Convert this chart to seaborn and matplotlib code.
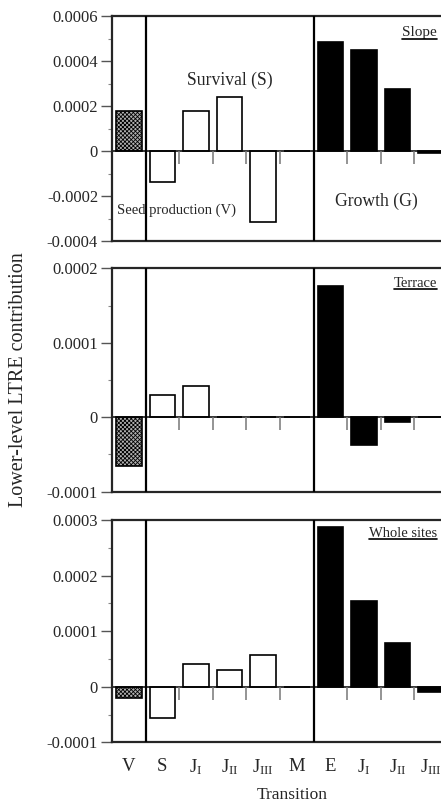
import numpy as np
import pandas as pd
import matplotlib
matplotlib.use("Agg")
import matplotlib.pyplot as plt
from matplotlib.ticker import FixedLocator, FixedFormatter, MultipleLocator
from matplotlib.lines import Line2D
import seaborn as sns

# ---------------- data ----------------
keys = ["V", "S", "SJI", "SJII", "SJIII", "M", "E", "GJI", "GJII", "GJIII"]
groups = ["V", "S", "S", "S", "S", "S", "G", "G", "G", "G"]
xlabels = ["V", "S", r"$\mathrm{J_{I}}$", r"$\mathrm{J_{II}}$", r"$\mathrm{J_{III}}$",
           "M", "E", r"$\mathrm{J_{I}}$", r"$\mathrm{J_{II}}$", r"$\mathrm{J_{III}}$"]

slope = [0.000178, -0.000136, 0.000178, 0.000241, -0.000314, -0.000002,
         0.000483, 0.000447, 0.000274, -0.000010]
terrace = [-0.0000651, 0.0000293, 0.0000414, 0.0, 0.0, 0.0,
           0.0001766, -0.0000369, -0.0000065, 0.0]
whole = [-0.000021, -0.0000563, 0.0000408, 0.0000300, 0.0000576, 0.0,
         0.000288, 0.000155, 0.0000786, -0.0000103]

panel_names = ["Slope", "Terrace", "Whole sites"]
panel_values = [slope, terrace, whole]
ylims = [(-0.0004, 0.0006), (-0.0001, 0.0002), (-0.0001, 0.0003)]
yticks = [[0.0006, 0.0004, 0.0002, 0, -0.0002, -0.0004],
          [0.0002, 0.0001, 0, -0.0001],
          [0.0003, 0.0002, 0.0001, 0, -0.0001]]
yticklabels = [["0.0006", "0.0004", "0.0002", "0", "-0.0002", "-0.0004"],
               ["0.0002", "0.0001", "0", "-0.0001"],
               ["0.0003", "0.0002", "0.0001", "0", "-0.0001"]]
minor_steps = [0.0001, 0.00005, 0.00005]

hue_order = ["V", "S", "G"]
palette = {"V": "#b0b0b0", "S": "white", "G": "black"}

# ---------------- style ----------------
sns.set_style("ticks")
plt.rcParams["font.family"] = ["Liberation Serif", "DejaVu Serif"]
plt.rcParams["mathtext.fontset"] = "custom"
plt.rcParams["mathtext.rm"] = "Liberation Serif"
plt.rcParams["mathtext.it"] = "Liberation Serif:italic"
plt.rcParams["axes.unicode_minus"] = False
plt.rcParams["hatch.linewidth"] = 0.6

fig = plt.figure(figsize=(4.41, 8.06), dpi=100)
W, H = 441.0, 806.0
left_px, right_px = 112.0, 448.0
panels_px = [(16.0, 241.0), (268.3, 491.7), (520.0, 742.3)]

axes = []
for i, (top, bot) in enumerate(panels_px):
    ax = fig.add_axes([left_px / W, 1 - bot / H, (right_px - left_px) / W, (bot - top) / H])
    axes.append(ax)
    df = pd.DataFrame({"key": keys, "group": groups, "value": panel_values[i]})
    sns.barplot(data=df, x="key", y="value", hue="group", order=keys,
                hue_order=hue_order, palette=palette, dodge=False, width=0.76,
                edgecolor="black", linewidth=1.2, legend=False, ax=ax,
                errorbar=None, saturation=1)
    # texture on seed production bar
    for cont, g in zip(ax.containers, hue_order):
        if g == "V":
            for p in cont:
                p.set_hatch("xxxxxxxx")
    ax.set_xlim(-0.5, 9.5)
    ax.set_ylim(*ylims[i])
    ax.axhline(0, color="black", lw=1.1, zorder=1)
    for xv in (0.5, 5.5):
        ax.axvline(xv, color="black", lw=1.6, zorder=3)
    # small tick marks along zero line
    bx = [1.5, 2.5, 3.5, 4.5, 6.5, 7.5, 8.5]
    ax.plot(bx, [0] * len(bx), ls="none", marker=3, markersize=9,
            mew=1.1, color="#777777", zorder=4)
    for s in ax.spines.values():
        s.set_linewidth(1.6)
        s.set_visible(True)
    ax.yaxis.set_major_locator(FixedLocator(yticks[i]))
    ax.yaxis.set_major_formatter(FixedFormatter(yticklabels[i]))
    ax.yaxis.set_minor_locator(MultipleLocator(minor_steps[i]))
    ax.tick_params(axis="y", which="major", length=8, width=1.0, color="#555555",
                   labelsize=12, pad=2)
    ax.tick_params(axis="y", which="minor", length=3, width=0.8, color="#888888")
    ax.set_ylabel("")
    ax.set_xlabel("")
    if i < 2:
        ax.set_xticks([])
    else:
        ax.set_xticks(range(len(keys)))
        ax.set_xticklabels(xlabels)
        ax.tick_params(axis="x", length=0, labelsize=13.5, pad=11)

# panel texts
name_pos = [(0.967, 0.925), (0.967, 0.934), (0.967, 0.94)]
name_size = [11, 10.5, 10.5]
name_texts = []
for ax, nm, (xp, yp), fs in zip(axes, panel_names, name_pos, name_size):
    t = ax.text(xp, yp, nm, transform=ax.transAxes, ha="right", va="center",
                fontsize=fs)
    name_texts.append(t)

a0 = axes[0]
a0.text(0.351, 0.716, "Survival (S)", transform=a0.transAxes, ha="center",
        va="center", fontsize=12.7)
a0.text(0.193, 0.138, "Seed production (V)", transform=a0.transAxes, ha="center",
        va="center", fontsize=10.5)
a0.text(0.786, 0.175, "Growth (G)", transform=a0.transAxes, ha="center",
        va="center", fontsize=12.7)

axes[2].set_xlabel("Transition", fontsize=12.5)
axes[2].xaxis.set_label_coords(0.536, -0.20)
fig.text(0.042, 1 - 380 / H, "Lower-level LTRE contribution", rotation=90,
         ha="center", va="center", fontsize=14.5)

# underline panel names
fig.canvas.draw()
renderer = fig.canvas.get_renderer()
inv = fig.transFigure.inverted()
for t in name_texts:
    bb = t.get_window_extent(renderer)
    (x0, y0), (x1, y1) = inv.transform([(bb.x0, bb.y0), (bb.x1, bb.y1)])
    yl = y0 + 0.0005
    fig.add_artist(Line2D([x0, x1], [yl, yl], transform=fig.transFigure,
                          color="black", lw=1.2))

fig.savefig("out.png", dpi=100)
